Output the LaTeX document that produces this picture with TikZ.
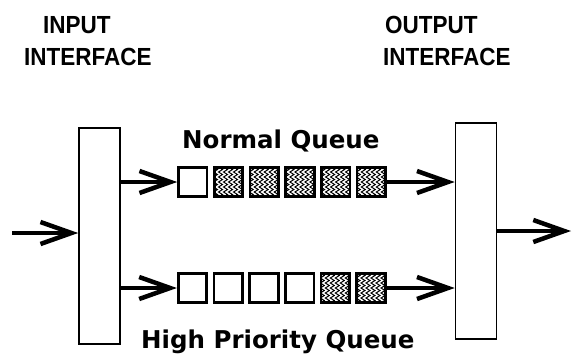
\documentclass[tikz,border=0pt]{standalone}
\usepackage{fontspec}
\newfontfamily\qfont{DejaVu Sans}
\newfontfamily\hfont{Liberation Sans}
\usetikzlibrary{arrows.meta,decorations.pathmorphing}
\tikzset{
  iface/.style={draw, line width=1.6pt, minimum width=41pt, minimum height=216pt, inner sep=0pt},
  cell/.style={draw, line width=2.7pt, fill=white, minimum width=28.5pt, minimum height=29.5pt, inner sep=0pt},
  hatch/.style={cell, path picture={
      \foreach \i in {-13,-8,...,14}
        \draw[line width=1pt, decorate, decoration={zigzag, segment length=5pt, amplitude=2pt}]
          ([xshift=\i pt, yshift=4pt]path picture bounding box.north) --
          ([xshift=\i pt, yshift=-4pt]path picture bounding box.south);}},
  arr/.style={line width=4.5pt, -{Straight Barb[length=31pt, width=22pt]}},
  qlabel/.style={font=\qfont\bfseries\fontsize{24.5}{28}\selectfont, inner sep=0pt, anchor=base west},
  hlabel/.style={font=\hfont\bfseries\fontsize{22.5}{26}\selectfont, inner sep=0pt, anchor=base west}
}
\begin{document}
\begin{tikzpicture}[x=1pt, y=-1pt]
\useasboundingbox (0,0) rectangle (572,354);
% headings
\node[hlabel] (t1) at (43,33) {\scalebox{1}[1.1]{INPUT}};
\node[hlabel] (t2) at (24,65) {\scalebox{1}[1.1]{INTERFACE}};
\node[hlabel] (t3) at (385,33) {\scalebox{1}[1.1]{OUTPUT}};
\node[hlabel] (t4) at (383,65) {\scalebox{1}[1.1]{INTERFACE}};
\node[qlabel] (nq) at (182,148) {Normal Queue};
\node[qlabel] (hq) at (141,348) {High Priority Queue};
% interfaces
\node[iface] (inp) at (99.5,236) {};
\node[iface] (out) at (476,231) {};
% normal queue
\node[cell]  (n1) at (192.8,182) {};
\node[hatch] (n2) at (228.5,182) {};
\node[hatch] (n3) at (264.2,182) {};
\node[hatch] (n4) at (299.9,182) {};
\node[hatch] (n5) at (335.6,182) {};
\node[hatch] (n6) at (371.3,182) {};
% high priority queue
\node[cell]  (h1) at (192.5,288) {};
\node[cell]  (h2) at (228.2,288) {};
\node[cell]  (h3) at (263.9,288) {};
\node[cell]  (h4) at (299.6,288) {};
\node[hatch] (h5) at (335.3,288) {};
\node[hatch] (h6) at (371,288) {};
% connectors
\coordinate (src) at (12,233);
\coordinate (dst) at (571,231);
\draw[arr] (src) -- (src -| inp.west);
\draw[arr] (inp.east |- n1) -- (n1.west);
\draw[arr] (inp.east |- h1) -- (h1.west);
\draw[arr] (n6.east) -- (n6 -| out.west);
\draw[arr] (h6.east) -- (h6 -| out.west);
\draw[arr] (out.east) -- (dst);
\end{tikzpicture}
\end{document}
